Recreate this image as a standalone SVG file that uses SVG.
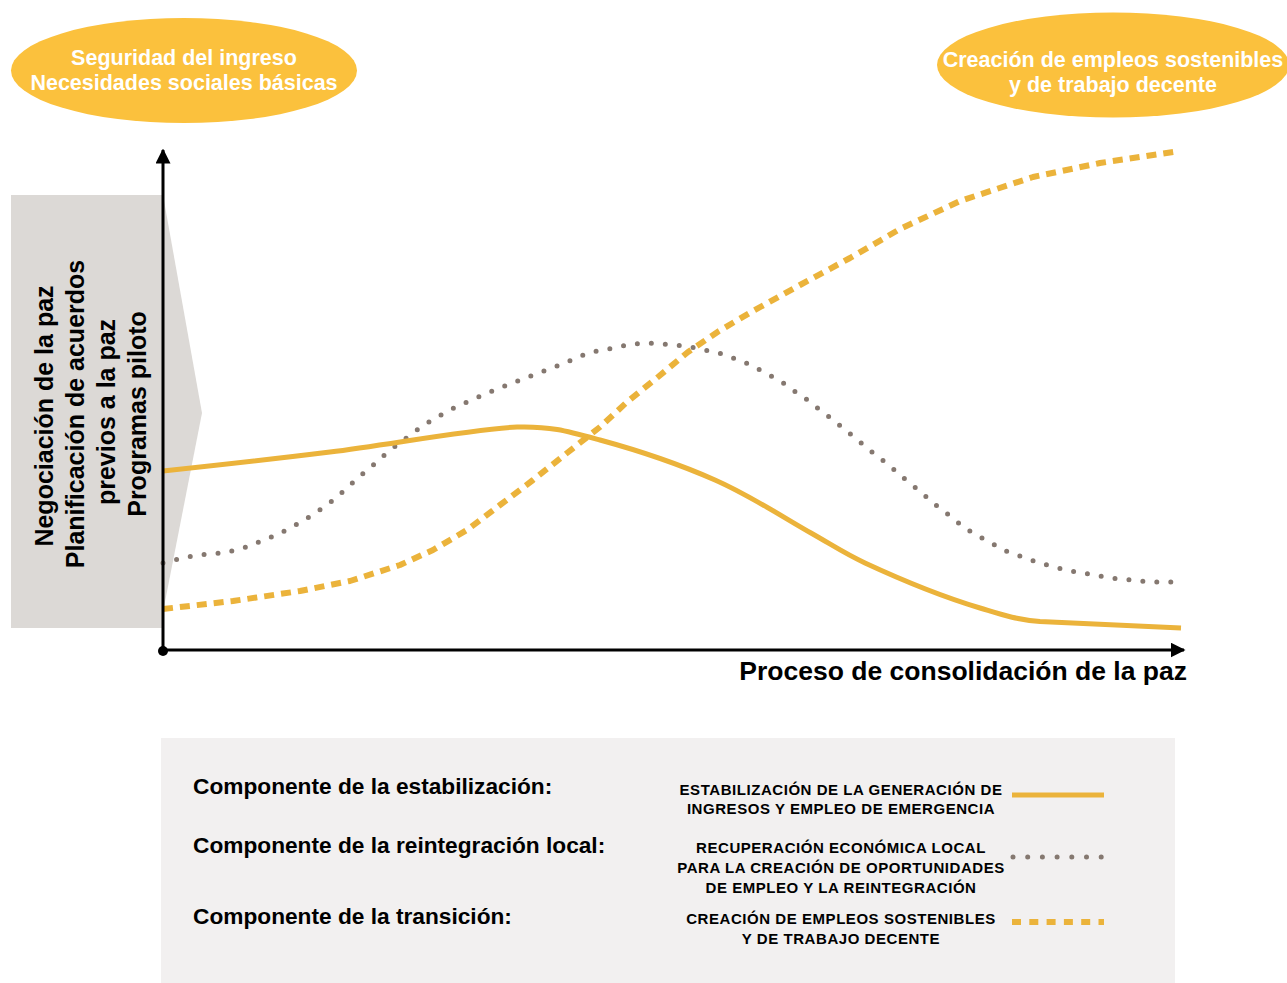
<svg xmlns="http://www.w3.org/2000/svg" width="1287" height="983" viewBox="0 0 1287 983">
<style>
.bold{font-family:"Liberation Sans",Arial,sans-serif;font-weight:bold}
.ell{fill:#FBC13D}
.elltxt{fill:#ffffff;font-size:21.5px;text-anchor:middle}
.side{fill:#000;font-size:25px;text-anchor:middle}
.leg1{fill:#000;font-size:22.7px}
.leg2{fill:#000;font-size:15px;letter-spacing:0.55px;text-anchor:middle}
.solid{fill:none;stroke:#EBB33B;stroke-width:5;stroke-linejoin:round;stroke-linecap:butt}
.dash{fill:none;stroke:#EBB33B;stroke-width:6;stroke-dasharray:10 7;stroke-linejoin:round}
.dot{fill:none;stroke:#857870;stroke-width:5;stroke-dasharray:0 14;stroke-linecap:round;stroke-linejoin:round}
.axis{fill:none;stroke:#000;stroke-width:3}
</style>
<defs>
<marker id="arr" viewBox="0 0 10 10" refX="9" refY="5" markerWidth="5" markerHeight="5" markerUnits="strokeWidth" orient="auto">
<path d="M0,0 L10,5 L0,10 z" fill="#000"/>
</marker>
</defs>
<rect width="1287" height="983" fill="#ffffff"/>

<g id="node-left-ellipse">
<ellipse class="ell" cx="184" cy="70.5" rx="173" ry="52.5"/>
<text class="bold elltxt" x="184" y="65">Seguridad del ingreso</text>
<text class="bold elltxt" x="184" y="90">Necesidades sociales básicas</text>
</g>

<g id="node-right-ellipse">
<ellipse class="ell" cx="1113" cy="65" rx="176" ry="52.5"/>
<text class="bold elltxt" x="1113" y="67">Creación de empleos sostenibles</text>
<text class="bold elltxt" x="1113" y="92">y de trabajo decente</text>
</g>

<g id="node-side-panel">
<rect x="11" y="195" width="152" height="433" fill="#DCD9D6"/>
<polygon points="163,195 202,413 163,612" fill="#DCD9D6"/>
<g class="bold side">
<text transform="translate(53,416) rotate(-90)">Negociación de la paz</text>
<text transform="translate(84,414) rotate(-90)">Planificación de acuerdos</text>
<text transform="translate(115,412) rotate(-90)">previos a la paz</text>
<text transform="translate(146,414) rotate(-90)">Programas piloto</text>
</g>
</g>

<g id="connectors">
<polyline class="dash" points="163,609 233,601 300,591 350,581 400,565 433,550 467,530 500,505 533,480 567,453 600,427 627,402 658,377 688,352 719,331 753,311 800,285 850,258 900,229 960,201 1033,177 1100,163 1180,151"/>
<polyline class="dot" points="163,563 179,559 193,556 207,554 222,553 236,550 250,546 263,540 277,535 290,528 303,521 315,513 327,505 338,496 349,486 360,476 371,467 382,457 393,448 405,439 417,430 429,422 441,415 454,408 467,402 490,392 520,380 560,365 590,352 604,350 617,347 633,344 647,343 661,344 676,345 691,347 705,350 719,353 733,358 746,363 760,370 773,377 785,384 797,393 809,401 820,410 832,419 843,428 854,437 866,447 877,456 889,465 900,475 911,484 922,493 933,503 945,512 956,521 968,530 980,537 993,544 1006,551 1020,556 1034,561 1047,565 1062,569 1076,572 1090,574 1105,577 1119,579 1134,580 1149,582 1181,582"/>
<path class="solid" d="M163,471 C191,468 271,459.3 330,452 C389,444.7 472,429 517,427 C550,426 567,431 600,440 C633,449 680,464.5 715,480 C750.2,495.5 785.3,518.5 811,533 C833,545.5 845,553.7 865,563 C893,576 940,596 980,608 C1000,614 1015,619.5 1040,621.5 C1090,624 1140,626 1181,628"/>
<line class="axis" x1="163" y1="651" x2="163" y2="150" marker-end="url(#arr)"/>
<line class="axis" x1="163" y1="650" x2="1184" y2="650" marker-end="url(#arr)"/>
<circle cx="163" cy="651" r="5" fill="#000"/>
</g>

<g id="node-axis-label">
<text class="bold" x="1187" y="680" font-size="26.5" text-anchor="end" fill="#000">Proceso de consolidación de la paz</text>
</g>

<g id="node-legend">
<rect x="161" y="738" width="1014" height="245" fill="#F2F0F0"/>
<text class="bold leg1" x="193" y="794">Componente de la estabilización:</text>
<text class="bold leg1" x="193" y="853">Componente de la reintegración local:</text>
<text class="bold leg1" x="193" y="924">Componente de la transición:</text>
<text class="bold leg2" x="841" y="795">ESTABILIZACIÓN DE LA GENERACIÓN DE</text>
<text class="bold leg2" x="841" y="814">INGRESOS Y EMPLEO DE EMERGENCIA</text>
<text class="bold leg2" x="841" y="853">RECUPERACIÓN ECONÓMICA LOCAL</text>
<text class="bold leg2" x="841" y="873">PARA LA CREACIÓN DE OPORTUNIDADES</text>
<text class="bold leg2" x="841" y="893">DE EMPLEO Y LA REINTEGRACIÓN</text>
<text class="bold leg2" x="841" y="924">CREACIÓN DE EMPLEOS SOSTENIBLES</text>
<text class="bold leg2" x="841" y="944">Y DE TRABAJO DECENTE</text>
<line x1="1012" y1="795" x2="1104" y2="795" stroke="#EBB33B" stroke-width="5"/>
<line x1="1013" y1="857" x2="1104" y2="857" stroke="#857870" stroke-width="5" stroke-linecap="round" stroke-dasharray="0 14.7"/>
<line x1="1012" y1="922" x2="1104" y2="922" stroke="#EBB33B" stroke-width="6" stroke-dasharray="9 8.3"/>
</g>
</svg>
